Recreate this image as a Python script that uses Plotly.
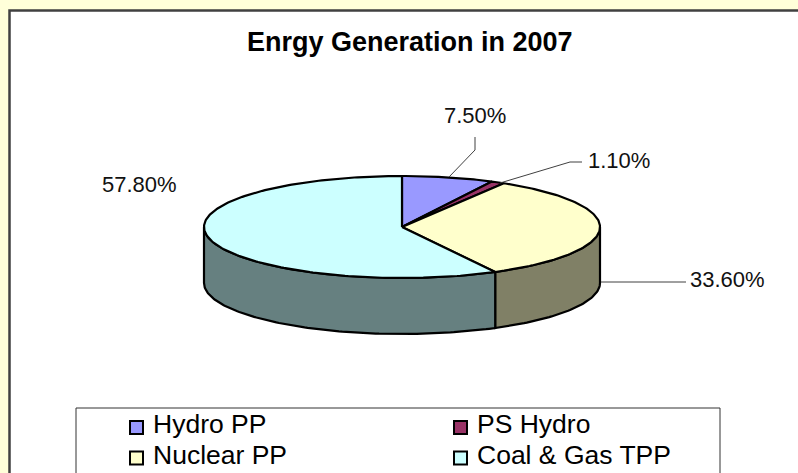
import numpy as np
import plotly.graph_objects as go

categories = ["Hydro PP", "PS Hydro", "Nuclear PP", "Coal & Gas TPP"]
values = [7.5, 1.1, 33.6, 57.8]
labels = ["7.50%", "1.10%", "33.60%", "57.80%"]
top_colors = ["#9999FF", "#993366", "#FFFFCC", "#CCFFFF"]
side_colors = ["#4D4D80", "#4D1A33", "#808066", "#668080"]

W, H = 798, 473
CX, CY, RX, RY, DEPTH = 402, 227, 198, 51, 56
OUTLINE = "#000000"

def pt(deg, dy=0):
    a = np.radians(deg)
    return CX + RX*np.sin(a), CY - RY*np.cos(a) + dy

def arc(a0, a1, dy=0):
    n = max(2, int(abs(a1-a0)) + 2)
    return pt(np.linspace(a0, a1, n), dy)

fig = go.Figure()

def poly(xs, ys, color, width=2.2):
    fig.add_trace(go.Scatter(x=xs, y=ys, mode="lines", fill="toself", fillcolor=color,
                             line=dict(color=OUTLINE, width=width), hoverinfo="skip", showlegend=False))

edges = np.concatenate([[0], np.cumsum(values)]) * 3.6
for i in range(len(values)):
    a0, a1 = max(edges[i], 90), min(edges[i+1], 270)
    if a1 > a0:
        x0, y0 = arc(a0, a1)
        x1, y1 = arc(a1, a0, DEPTH)
        poly(np.r_[x0, x1, x0[0]], np.r_[y0, y1, y0[0]], side_colors[i])
for i in range(len(values)):
    xa, ya = arc(edges[i], edges[i+1])
    poly(np.r_[CX, xa, CX], np.r_[CY, ya, CY], top_colors[i])

leaders = [([449, 475, 475], [177, 150, 137]),
           ([500, 570, 582], [183, 162, 162]),
           ([601, 686], [282, 282])]
for lx, ly in leaders:
    fig.add_trace(go.Scatter(x=lx, y=ly, mode="lines", line=dict(color="#404040", width=1),
                             hoverinfo="skip", showlegend=False))

FONT = "Liberation Sans, Arial, sans-serif"
label_pos = [(475, 115, "center"), (586, 160, "left"), (688, 279, "left"), (139, 184.5, "center")]
annotations = [dict(x=x, y=y, text=t, showarrow=False, xanchor=a, yanchor="middle",
                    font=dict(family=FONT, size=22, color="#111111"))
               for (x, y, a), t in zip(label_pos, labels)]
annotations.append(dict(x=410, y=42, text="<b>Enrgy Generation in 2007</b>", showarrow=False,
                        xanchor="center", yanchor="middle", font=dict(family=FONT, size=27, color="#000000")))

leg_x = [136.5, 460.5, 136.5, 460.5]
leg_text_y = [424, 424, 454.5, 454.5]
leg_mark_y = [427.5, 427.5, 458, 458]
for c, col, x, ty, my in zip(categories, top_colors, leg_x, leg_text_y, leg_mark_y):
    fig.add_trace(go.Scatter(x=[x], y=[my], mode="markers",
                             marker=dict(symbol="square", size=13, color=col, line=dict(color="#000000", width=2)),
                             hoverinfo="skip", showlegend=False))
    annotations.append(dict(x=x+14.5, y=ty, text=c, showarrow=False, xanchor="left", yanchor="middle",
                            font=dict(family=FONT, size=26.5, color="#000000")))

shapes = [
    dict(type="rect", x0=9.5, y0=10.5, x1=W+10, y1=H+10, layer="below",
         fillcolor="#FFFFFF", line=dict(color="#404040", width=2.5)),
    dict(type="rect", x0=76, y0=408, x1=720, y1=H+10, layer="below",
         fillcolor="#FFFFFF", line=dict(color="#333333", width=1)),
]

fig.update_layout(width=W, height=H, margin=dict(l=0, r=0, t=0, b=0), autosize=False,
                  paper_bgcolor="#FFFFD9", plot_bgcolor="rgba(0,0,0,0)",
                  xaxis=dict(range=[0, W], visible=False, fixedrange=True),
                  yaxis=dict(range=[H, 0], visible=False, fixedrange=True),
                  shapes=shapes, annotations=annotations, showlegend=False)
fig.write_html("out.html", config=dict(displayModeBar=False),
               post_script="document.body.style.margin='0';document.body.style.overflow='hidden';")
